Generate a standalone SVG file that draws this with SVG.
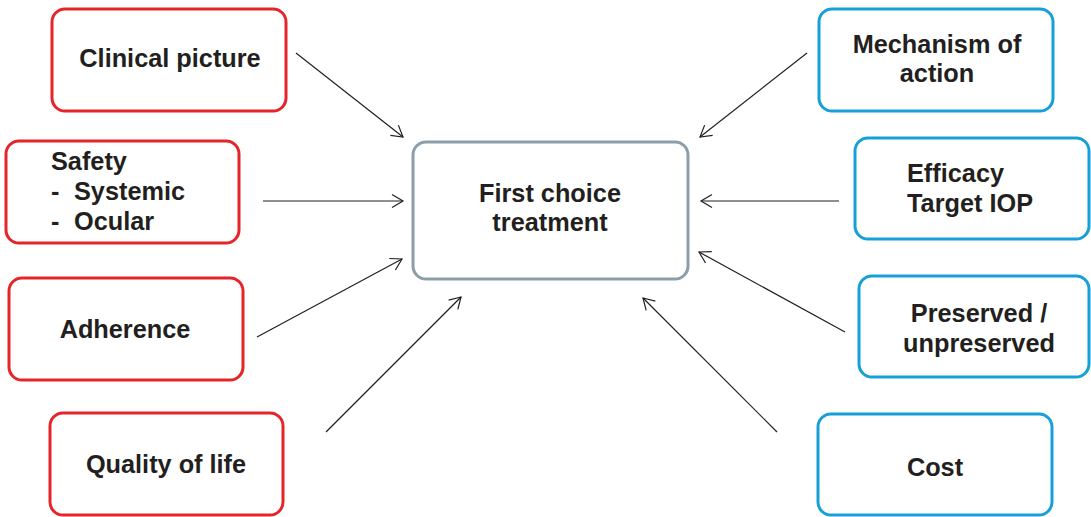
<svg xmlns="http://www.w3.org/2000/svg" width="1091" height="517" viewBox="0 0 1091 517">
<style>
.box{fill:#fff;stroke-width:3}
.red{stroke:#e6252a}
.blue{stroke:#179fd7}
.gray{stroke:#8b9fab}
text{font-family:"Liberation Sans",Arial,sans-serif;font-weight:bold;font-size:25.3px;fill:#231f20}
.c{text-anchor:middle}
.conn line{stroke:#231f20;stroke-width:1.2;fill:none;marker-end:url(#ah)}
</style>
<defs>
<marker id="ah" markerUnits="userSpaceOnUse" markerWidth="14" markerHeight="16" refX="12" refY="8" orient="auto">
<path d="M1,1.5 L12,8 L1,14.5" fill="none" stroke="#231f20" stroke-width="1.2"/>
</marker>
</defs>
<g id="connectors" class="conn">
<line x1="296" y1="53" x2="403" y2="137"/>
<line x1="263" y1="201" x2="403" y2="201"/>
<line x1="257" y1="337" x2="402" y2="259"/>
<line x1="326" y1="432" x2="461" y2="297"/>
<line x1="807" y1="53" x2="700" y2="137"/>
<line x1="839" y1="201" x2="701" y2="201"/>
<line x1="845" y1="332" x2="699" y2="252"/>
<line x1="777" y1="432" x2="643" y2="298"/>
</g>
<g id="center">
<rect class="box gray" x="413" y="142" width="275" height="137" rx="13"/>
<text class="c" x="550" y="202">First choice</text>
<text class="c" x="550" y="231">treatment</text>
</g>
<g id="clinical">
<rect class="box red" x="52" y="9" width="234" height="102" rx="13"/>
<text class="c" x="170" y="67">Clinical picture</text>
</g>
<g id="safety">
<rect class="box red" x="6" y="141" width="233" height="102" rx="13"/>
<text x="51" y="170">Safety</text>
<text x="51" y="200">-</text>
<text x="74" y="200">Systemic</text>
<text x="51" y="230">-</text>
<text x="74" y="230">Ocular</text>
</g>
<g id="adherence">
<rect class="box red" x="9" y="278" width="234" height="102" rx="13"/>
<text class="c" x="125" y="338">Adherence</text>
</g>
<g id="quality">
<rect class="box red" x="50" y="413" width="233" height="102" rx="13"/>
<text class="c" x="166" y="473">Quality of life</text>
</g>
<g id="mechanism">
<rect class="box blue" x="819" y="9" width="234" height="102" rx="13"/>
<text class="c" x="937" y="53">Mechanism of</text>
<text class="c" x="937" y="82">action</text>
</g>
<g id="efficacy">
<rect class="box blue" x="855" y="138" width="234" height="101" rx="13"/>
<text x="907" y="182">Efficacy</text>
<text x="907" y="212">Target IOP</text>
</g>
<g id="preserved">
<rect class="box blue" x="859" y="276" width="230" height="101" rx="13"/>
<text class="c" x="979" y="322">Preserved /</text>
<text class="c" x="979" y="352">unpreserved</text>
</g>
<g id="cost">
<rect class="box blue" x="818" y="414" width="234" height="101" rx="13"/>
<text class="c" x="935" y="476">Cost</text>
</g>
</svg>
